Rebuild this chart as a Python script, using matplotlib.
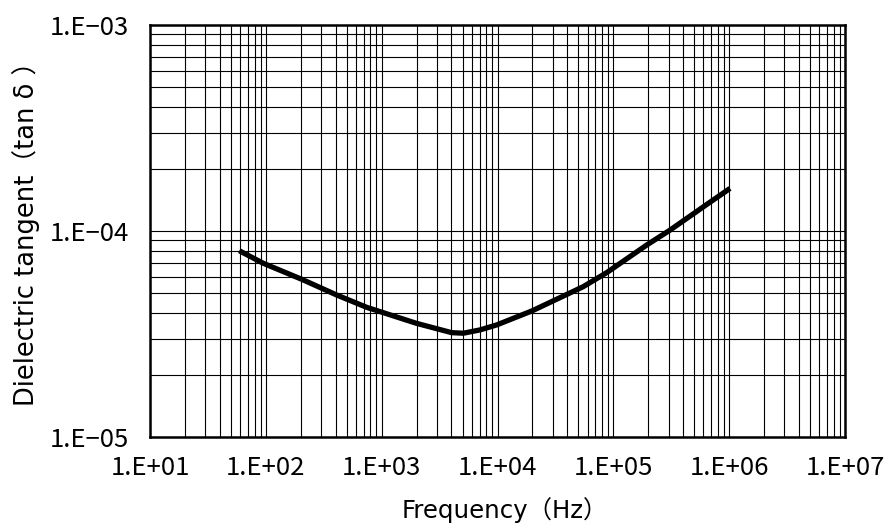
import matplotlib
matplotlib.use("Agg")
import matplotlib.pyplot as plt
from matplotlib.ticker import LogLocator, FixedLocator, FixedFormatter, NullFormatter
import numpy as np

plt.rcParams['font.family'] = ['Noto Sans CJK JP', 'DejaVu Sans']

# Data (frequency in Hz, tan delta)
freq = [59.0, 95.1, 204, 409, 743, 2007, 4024, 5067, 7063, 9845, 19970, 55060, 87660, 194200, 308600, 598200, 1017000]
tand = [8.02e-5, 6.97e-5, 5.83e-5, 4.89e-5, 4.26e-5, 3.56e-5, 3.21e-5, 3.19e-5, 3.31e-5, 3.50e-5, 4.10e-5, 5.37e-5, 6.28e-5, 8.55e-5, 1.01e-4, 1.31e-4, 1.61e-4]

xticks = [1e1, 1e2, 1e3, 1e4, 1e5, 1e6, 1e7]
xticklabels = ["1.E+01", "1.E+02", "1.E+03", "1.E+04", "1.E+05", "1.E+06", "1.E+07"]
yticks = [1e-5, 1e-4, 1e-3]
yticklabels = ["1.E\u221205", "1.E\u221204", "1.E\u221203"]

fig = plt.figure(figsize=(8.86, 5.24), dpi=100)
ax = fig.add_axes([150/886, 1-437/524, 695/886, 412/524])

ax.plot(freq, tand, color='black', linewidth=3.8, solid_capstyle='butt',
        solid_joinstyle='round', zorder=3)

ax.set_xscale('log')
ax.set_yscale('log')
ax.set_xlim(1e1, 1e7)
ax.set_ylim(1e-5, 1e-3)

ax.xaxis.set_major_locator(FixedLocator(xticks))
ax.xaxis.set_major_formatter(FixedFormatter(xticklabels))
ax.yaxis.set_major_locator(FixedLocator(yticks))
ax.yaxis.set_major_formatter(FixedFormatter(yticklabels))
ax.xaxis.set_minor_locator(LogLocator(base=10, subs=np.arange(2, 10), numticks=20))
ax.yaxis.set_minor_locator(LogLocator(base=10, subs=np.arange(2, 10), numticks=20))
ax.xaxis.set_minor_formatter(NullFormatter())
ax.yaxis.set_minor_formatter(NullFormatter())

ax.grid(True, which='both', color='black', linewidth=0.8)
ax.tick_params(which='both', length=0)
ax.tick_params(axis='x', pad=13, labelsize=18.5)
ax.tick_params(axis='y', pad=15, labelsize=18.5)

for s in ax.spines.values():
    s.set_linewidth(1.8)
    s.set_color('black')

ax.set_xlabel("Frequency（Hz）", fontsize=17.6,
              family=['DejaVu Sans', 'Noto Sans CJK JP'])
ax.xaxis.set_label_coords(0.51, -0.145)
ax.set_ylabel("Dielectric tangent（tan δ ）", fontsize=18.5,
              family=['DejaVu Sans', 'Noto Sans CJK JP'])
ax.yaxis.set_label_coords(-0.158, 0.51)

fig.savefig("out.png", dpi=100)
